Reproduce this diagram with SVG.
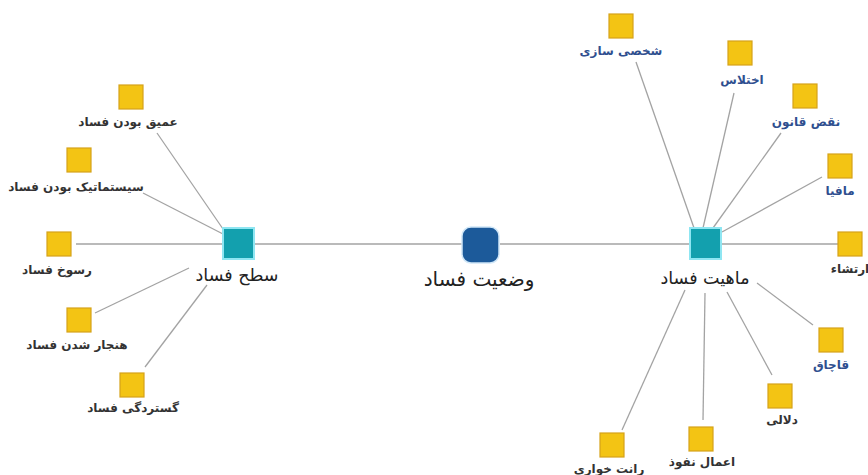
<svg xmlns="http://www.w3.org/2000/svg" width="868" height="475" viewBox="0 0 868 475">
<defs>
<style>
.leaf{fill:#f3c414;stroke:#d6a21a;stroke-width:1.2}
.hub{fill:#13a0ae;stroke:#8fe6f2;stroke-width:2}
.core{fill:#1c5a9a;stroke:#cfe6f7;stroke-width:1.5}
.edge{stroke:#a3a3a3;stroke-width:1.3;fill:none}
text{font-family:"DejaVu Sans","Noto Sans",sans-serif;text-anchor:middle;direction:rtl}
.lbl{font-size:12px;font-weight:bold;fill:#333}
.lblb{font-size:12px;font-weight:bold;fill:#2f4f8f}
.big{font-size:17.5px;fill:#222}
.core-t{font-size:20px;fill:#222}
</style>
</defs>
<rect width="868" height="475" fill="#ffffff"/>
<g id="connectors">
<line class="edge" x1="254" y1="244" x2="462" y2="244"/>
<line class="edge" x1="500" y1="244" x2="689" y2="244"/>
<line class="edge" x1="157" y1="133" x2="223" y2="229"/>
<line class="edge" x1="143" y1="193" x2="223" y2="234"/>
<line class="edge" x1="76" y1="244" x2="223" y2="244"/>
<line class="edge" x1="95" y1="313" x2="189" y2="268"/>
<line class="edge" x1="145" y1="367" x2="207" y2="285"/>
<line class="edge" x1="636" y1="62" x2="694" y2="228"/>
<line class="edge" x1="734" y1="93" x2="703" y2="228"/>
<line class="edge" x1="781" y1="133" x2="713" y2="228"/>
<line class="edge" x1="822" y1="177" x2="722" y2="232"/>
<line class="edge" x1="722" y1="244" x2="838" y2="244"/>
<line class="edge" x1="757" y1="283" x2="813" y2="325"/>
<line class="edge" x1="727" y1="292" x2="772" y2="375"/>
<line class="edge" x1="705" y1="293" x2="703" y2="420"/>
<line class="edge" x1="685" y1="290" x2="622" y2="430"/>
</g>
<g id="core">
<rect class="core" x="462" y="227" width="37" height="36" rx="9"/>
<text class="core-t" x="479" y="286">وضعیت فساد</text>
</g>
<g id="hub-left">
<rect class="hub" x="223" y="228" width="31" height="31"/>
<text class="big" x="237" y="281">سطح فساد</text>
</g>
<g id="hub-right">
<rect class="hub" x="690" y="228" width="31" height="31"/>
<text class="big" x="705" y="284">ماهیت فساد</text>
</g>
<g id="n-omq">
<rect class="leaf" x="119" y="85" width="24" height="24"/>
<text class="lbl" x="128" y="126">عمیق بودن فساد</text>
</g>
<g id="n-system">
<rect class="leaf" x="67" y="148" width="24" height="24"/>
<text class="lbl" x="76" y="191">سیستماتیک بودن فساد</text>
</g>
<g id="n-rosukh">
<rect class="leaf" x="47" y="232" width="24" height="24"/>
<text class="lbl" x="57" y="274">رسوخ فساد</text>
</g>
<g id="n-hanjar">
<rect class="leaf" x="67" y="308" width="24" height="24"/>
<text class="lbl" x="77" y="349">هنجار شدن فساد</text>
</g>
<g id="n-gostardegi">
<rect class="leaf" x="120" y="373" width="24" height="24"/>
<text class="lbl" x="133" y="412">گستردگی فساد</text>
</g>
<g id="n-shakhsi">
<rect class="leaf" x="609" y="14" width="24" height="24"/>
<text class="lblb" x="621" y="55">شخصی سازی</text>
</g>
<g id="n-ekhtelas">
<rect class="leaf" x="728" y="41" width="24" height="24"/>
<text class="lblb" x="742" y="84">اختلاس</text>
</g>
<g id="n-naqz">
<rect class="leaf" x="793" y="84" width="24" height="24"/>
<text class="lblb" x="806" y="126">نقض قانون</text>
</g>
<g id="n-mafia">
<rect class="leaf" x="828" y="154" width="24" height="24"/>
<text class="lblb" x="840" y="195">مافیا</text>
</g>
<g id="n-ertesha">
<rect class="leaf" x="838" y="232" width="24" height="24"/>
<text class="lbl" x="850" y="273">ارتشاء</text>
</g>
<g id="n-qachaq">
<rect class="leaf" x="819" y="328" width="24" height="24"/>
<text class="lblb" x="831" y="369">قاچاق</text>
</g>
<g id="n-dallali">
<rect class="leaf" x="768" y="384" width="24" height="24"/>
<text class="lbl" x="782" y="424">دلالی</text>
</g>
<g id="n-nofuz">
<rect class="leaf" x="689" y="427" width="24" height="24"/>
<text class="lbl" x="702" y="466">اعمال نفوذ</text>
</g>
<g id="n-rant">
<rect class="leaf" x="600" y="433" width="24" height="24"/>
<text class="lbl" x="609" y="473">رانت خواری</text>
</g>
</svg>
